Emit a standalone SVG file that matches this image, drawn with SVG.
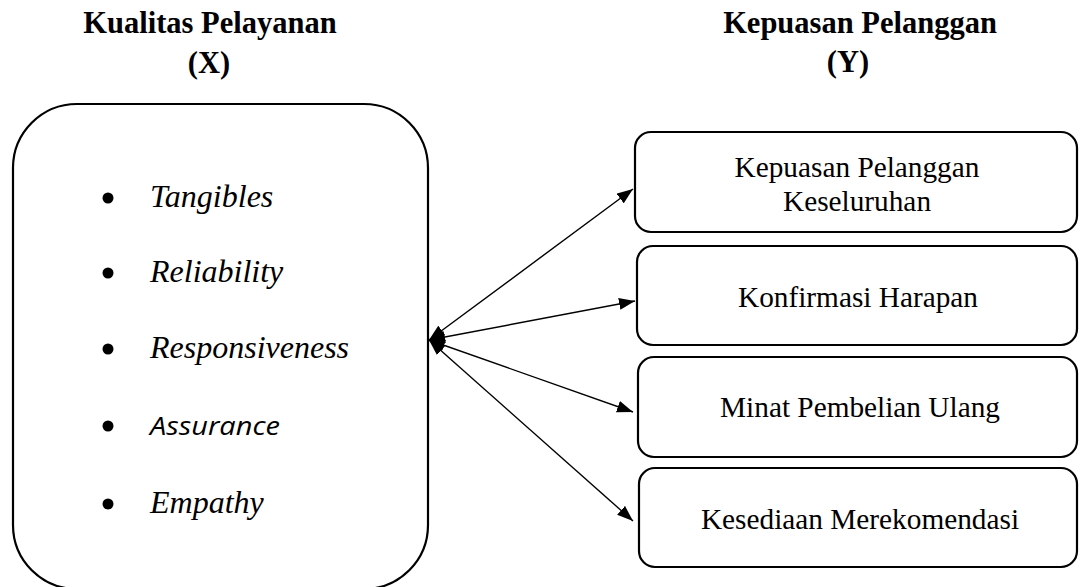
<svg xmlns="http://www.w3.org/2000/svg" width="1080" height="587" viewBox="0 0 1080 587">
  <style>
    .box { fill: #ffffff; stroke: #000000; stroke-width: 2.2; }
    .title { font-family: "Liberation Serif", "Times New Roman", serif; font-weight: bold; font-size: 30.5px; fill: #000; text-anchor: middle; }
    .lbl { font-family: "Liberation Serif", "Times New Roman", serif; font-size: 29.3px; fill: #000; text-anchor: middle; }
    .item { font-family: "Liberation Serif", "Times New Roman", serif; font-style: italic; font-size: 32px; fill: #000; }
    .item2 { font-family: "Open Sans", "Liberation Sans", sans-serif; font-style: italic; font-size: 26px; fill: #000; }
    .conn { stroke: #000; stroke-width: 1.4; fill: none; marker-start: url(#ah); marker-end: url(#ah); }
  </style>
  <defs>
    <marker id="ah" viewBox="0 0 16 12" refX="16" refY="6" markerWidth="16" markerHeight="12" markerUnits="userSpaceOnUse" orient="auto-start-reverse">
      <path d="M0,0 L16,6 L0,12 Z" fill="#000"/>
    </marker>
  </defs>
  <rect width="1080" height="587" fill="#ffffff"/>

  <g id="title-x">
    <text class="title" x="210" y="33">Kualitas Pelayanan</text>
    <text class="title" x="209" y="73">(X)</text>
  </g>
  <g id="title-y">
    <text class="title" x="860" y="33">Kepuasan Pelanggan</text>
    <text class="title" x="848" y="72">(Y)</text>
  </g>

  <g id="node-x">
    <rect class="box" x="13" y="104" width="415" height="485" rx="64" ry="64"/>
    <circle cx="108" cy="198" r="5.5"/>
    <text class="item" x="150" y="207">Tangibles</text>
    <circle cx="108" cy="273" r="5.5"/>
    <text class="item" x="150" y="282">Reliability</text>
    <circle cx="108" cy="349" r="5.5"/>
    <text class="item" x="150" y="358">Responsiveness</text>
    <circle cx="108" cy="426" r="5.5"/>
    <text class="item2" x="150" y="435" textLength="130" lengthAdjust="spacingAndGlyphs">Assurance</text>
    <circle cx="108" cy="504" r="5.5"/>
    <text class="item" x="150" y="513">Empathy</text>
  </g>

  <g id="node-y1">
    <rect class="box" x="635" y="132" width="442" height="100" rx="16" ry="16"/>
    <text class="lbl" x="857" y="177">Kepuasan Pelanggan</text>
    <text class="lbl" x="857" y="211">Keseluruhan</text>
  </g>
  <g id="node-y2">
    <rect class="box" x="637" y="246" width="440" height="99" rx="16" ry="16"/>
    <text class="lbl" x="858" y="307">Konfirmasi Harapan</text>
  </g>
  <g id="node-y3">
    <rect class="box" x="638" y="357" width="439" height="100" rx="16" ry="16"/>
    <text class="lbl" x="860" y="417">Minat Pembelian Ulang</text>
  </g>
  <g id="node-y4">
    <rect class="box" x="639" y="468" width="438" height="99" rx="16" ry="16"/>
    <text class="lbl" x="860" y="529">Kesediaan Merekomendasi</text>
  </g>

  <g id="connectors">
    <line class="conn" x1="429" y1="340" x2="633" y2="189"/>
    <line class="conn" x1="429" y1="340" x2="635" y2="301"/>
    <line class="conn" x1="429" y1="340" x2="633" y2="412"/>
    <line class="conn" x1="429" y1="340" x2="633" y2="521"/>
  </g>
</svg>
